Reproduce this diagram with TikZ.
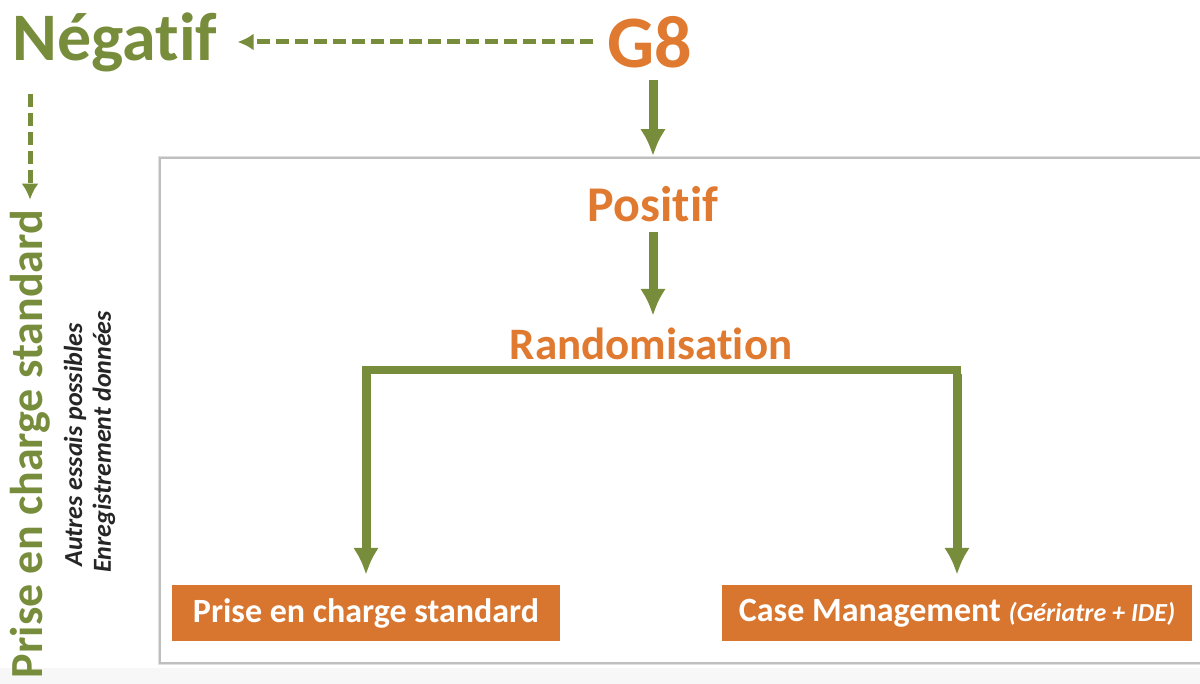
\documentclass[tikz,border=0pt]{standalone}
\usepackage{fontspec}
\setmainfont{Carlito}[Ligatures=NoCommon]
\usetikzlibrary{arrows.meta, positioning}

\definecolor{olive}{HTML}{788D3C}
\definecolor{orng}{HTML}{DF7A30}
\definecolor{boxorng}{HTML}{D8752E}

\begin{document}
\begin{tikzpicture}[x=1pt, y=-1pt,
    font=\bfseries,
    arr/.style={draw=olive, line width=9pt, -{Latex[length=27pt,width=26pt]}},
    dasharr/.style={draw=olive, line width=5pt, dash pattern=on 13pt off 6pt,
                    -{Latex[length=16pt,width=17pt]}},
    title/.style={text=orng, inner sep=0pt},
    outcome/.style={fill=boxorng, text=white, inner sep=0pt, minimum height=56pt}]
    % frame of the page
    \fill[white] (0,0) rectangle (1200,684);
    \fill[black!3] (0,668) rectangle (1200,684);
    \useasboundingbox (0,0) rectangle (1200,684);
    \fill[black!12] (158,156) rectangle (1210,665);
    \fill[white, draw=black!25, line width=1.5pt] (160,158) rectangle (1210,663);

    % Add the titles
        \node[title, font=\bfseries\fontsize{74}{74}\selectfont] (g8) at (650,42) {G8};
        \node[title, text=olive,
              font=\bfseries\fontsize{68}{68}\selectfont] (neg) at (115,42) {Négatif};
        \node[title, font=\bfseries\fontsize{50}{50}\selectfont] (pos) at (653,204) {Positif};
        \node[title, font=\bfseries\fontsize{45}{45}\selectfont] (rando) at (651,344) {Randomisation};

    % the left column
        \node[text=olive, rotate=90, inner sep=0pt,
              font=\bfseries\fontsize{46}{46}\selectfont] (pecs) at (30,444) {Prise en charge standard};
        \node[text=black!85, rotate=90, inner sep=0pt,
              font=\bfseries\itshape\fontsize{26}{26}\selectfont] (autres) at (75,445) {Autres essais possibles};
        \node[text=black!85, rotate=90, inner sep=0pt,
              font=\bfseries\itshape\fontsize{26}{26}\selectfont] (enreg) at (104,442) {Enregistrement données};

    % the two arms
        \node[outcome, minimum width=388pt, font=\bfseries\fontsize{34}{34}\selectfont] (std) at (366,613) {Prise en charge standard};
        \node[outcome, minimum width=470pt, font=\bfseries\fontsize{34}{34}\selectfont] (cm) at (957,613)
            {Case Management {\itshape\fontsize{26}{26}\selectfont (Gériatre + IDE)}};

        \coordinate (bar) at (651,370);

        \draw[dasharr, shorten <=14pt, shorten >=20pt] (g8) -- (neg);
        \draw[dasharr, shorten <=22pt, shorten >=10pt] (neg.south -| pecs.east) -- (pecs.east);
        \draw[arr, shorten <=12pt, shorten >=30pt] (pos.north |- g8.south) -- (pos.north);
        \draw[arr, shorten <=10pt, shorten >=12pt] (pos.south) -- (pos.south |- rando.north);
        \draw[draw=olive, line width=8pt] ([xshift=-4pt]std.north |- bar) -- ([xshift=4pt]cm.north |- bar);
        \draw[arr, shorten >=10pt] ([yshift=-4pt]std.north |- bar) -- (std.north);
        \draw[arr, shorten >=10pt] ([yshift=-4pt]cm.north |- bar) -- (cm.north);
    \end{tikzpicture}
\end{document}
